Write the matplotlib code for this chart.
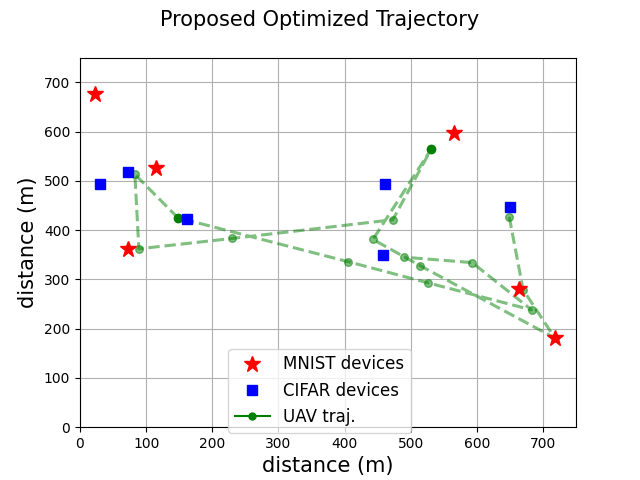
import numpy as np
import matplotlib.pyplot as plt

# device positions (m)
mnist_x = [23, 73, 115, 565, 664, 718]
mnist_y = [676, 362, 525, 596, 281, 181]
cifar_x = [30, 73, 162, 461, 458, 650]
cifar_y = [494, 517, 423, 494, 350, 446]

# UAV waypoints in flight order
traj_x = [649, 670, 718, 514, 443, 531, 473, 230, 89, 83, 148, 405, 526, 683, 593, 490]
traj_y = [427, 279, 181, 328, 381, 564, 421, 383, 362, 513, 425, 336, 293, 238, 334, 345]

# highlighted waypoints
hl_x = [148, 531]
hl_y = [425, 564]

plt.figure(figsize=(6.4, 4.8))
plt.plot(traj_x, traj_y, 'g--o', linewidth=2.2, markersize=5.5, alpha=0.5)
plt.plot(hl_x, hl_y, 'go', markersize=6)
plt.plot(mnist_x, mnist_y, 'r*', markersize=12, linestyle='none', label='MNIST devices')
plt.plot(cifar_x, cifar_y, 'bs', markersize=7.5, linestyle='none', label='CIFAR devices')
plt.plot([], [], 'g-o', markersize=5, label='UAV traj.')

plt.xlim(0, 750)
plt.ylim(0, 750)
plt.grid(True)
plt.xlabel('distance (m)', fontsize=15)
plt.ylabel('distance (m)', fontsize=15)
plt.suptitle('Proposed Optimized Trajectory', fontsize=15)
plt.legend(loc='lower center', bbox_to_anchor=(0.483, -0.015), borderaxespad=0,
           fontsize=12, handlelength=2.1)
plt.savefig('out.png', dpi=100)
